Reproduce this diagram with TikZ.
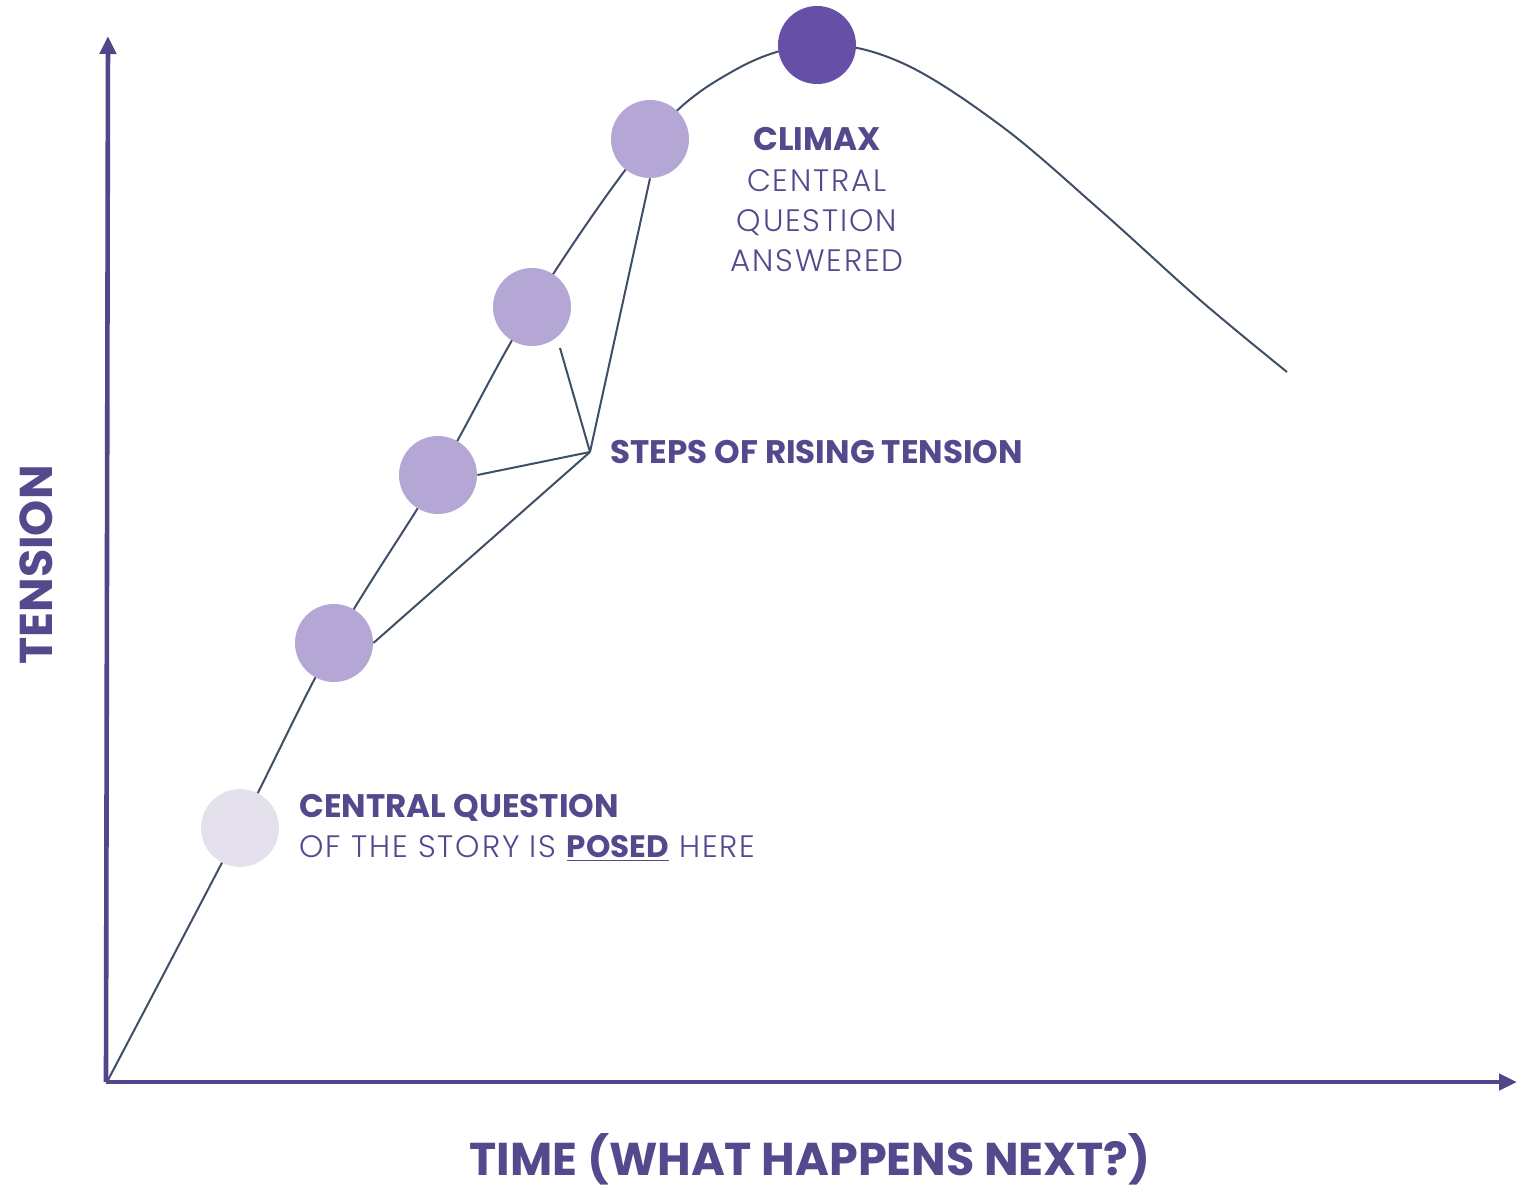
\documentclass[tikz,border=0pt]{standalone}
\usepackage{fontspec}
\setmainfont{Poppins}
\newfontfamily\lightfont{Poppins}[UprightFont={* Light}, LetterSpace=6]
\usetikzlibrary{arrows.meta}
\definecolor{axispurple}{HTML}{52468A}
\definecolor{textpurple}{HTML}{524A8C}
\definecolor{curvegray}{HTML}{3E4F66}
\definecolor{stepfill}{HTML}{B4A7D6}
\definecolor{posedfill}{HTML}{E4E1EC}
\definecolor{climaxfill}{HTML}{664FA6}
\tikzset{
	dot/.style={circle, minimum size=39pt, inner sep=0pt},
	axis/.style={axispurple, line width=2.3pt, -{Triangle[length=9pt,width=8pt]}},
	link/.style={curvegray, line width=1pt},
	boldlabel/.style={textpurple, font=\fontsize{16.3}{20}\selectfont\bfseries},
	lightlabel/.style={textpurple, font=\fontsize{15.5}{20}\selectfont\lightfont},
}

\begin{document}
\begin{tikzpicture}[x=0.5pt, y=-0.5pt]
			%%%%% START %%%%%
			\useasboundingbox (0, 0) rectangle (1517, 1189);
			
			% story curve
			\draw[link] plot[smooth, tension=0.6] coordinates {(108, 1080) (240, 828) (334, 643) (438, 475) (532, 307) (650, 139) (735, 70) (817, 45) (900, 62) (1000, 125) (1100, 210) (1200, 300) (1287, 372)};
			
			% axes
			\coordinate (origin) at (108, 1082);
			\coordinate (ytop) at (108, 36);
			\coordinate (xend) at (1517, 1082);
			\draw[axis] ([xshift=-1pt]origin) -- (ytop);
			\draw[axis] ([xshift=-1pt]origin) -- (xend);
			
			% dots
			\node[dot, fill=posedfill] (posed) at (240, 828) {};
			\node[dot, fill=stepfill] (s1) at (334, 643) {};
			\node[dot, fill=stepfill] (s2) at (438, 475) {};
			\node[dot, fill=stepfill] (s3) at (532, 307) {};
			\node[dot, fill=stepfill] (s4) at (650, 139) {};
			\node[dot, fill=climaxfill] (climax) at (817, 45) {};
			
			% steps callout
			\coordinate (hub) at (590, 452);
			\coordinate (s3tip) at (560, 348);
			\draw[link] (hub) -- (s1.east);
			\draw[link] (hub) -- (s2.east);
			\draw[link] (hub) -- (s3tip);
			\draw[link] (hub) -- (s4.south);
			\node[boldlabel, anchor=west, inner sep=0pt] (steps) at (610, 452) {STEPS OF RISING TENSION};
			
			% labels
			\node[boldlabel, anchor=base west, inner sep=0pt] (posedtop) at (299, 817) {CENTRAL QUESTION};
			\node[lightlabel, anchor=base west, inner sep=0pt] (posedbot) at (299, 857) {OF THE STORY IS {\normalfont\bfseries\underline{POSED}} HERE};
			\node[boldlabel, anchor=base, inner sep=0pt] (climaxtop) at (817, 150) {CLIMAX};
			\node[lightlabel, anchor=base, inner sep=0pt, align=center] (climaxbot) at (817, 271) {CENTRAL\\QUESTION\\ANSWERED};
			
			\node[textpurple, font=\fontsize{23}{28}\selectfont\bfseries, rotate=90] (ylabel) at (36, 565) {TENSION};
			\node[textpurple, font=\fontsize{23}{28}\selectfont\bfseries] (xlabel) at (810, 1159) {TIME (WHAT HAPPENS NEXT?)};
			%%%%% END %%%%%
\end{tikzpicture}
\end{document}
